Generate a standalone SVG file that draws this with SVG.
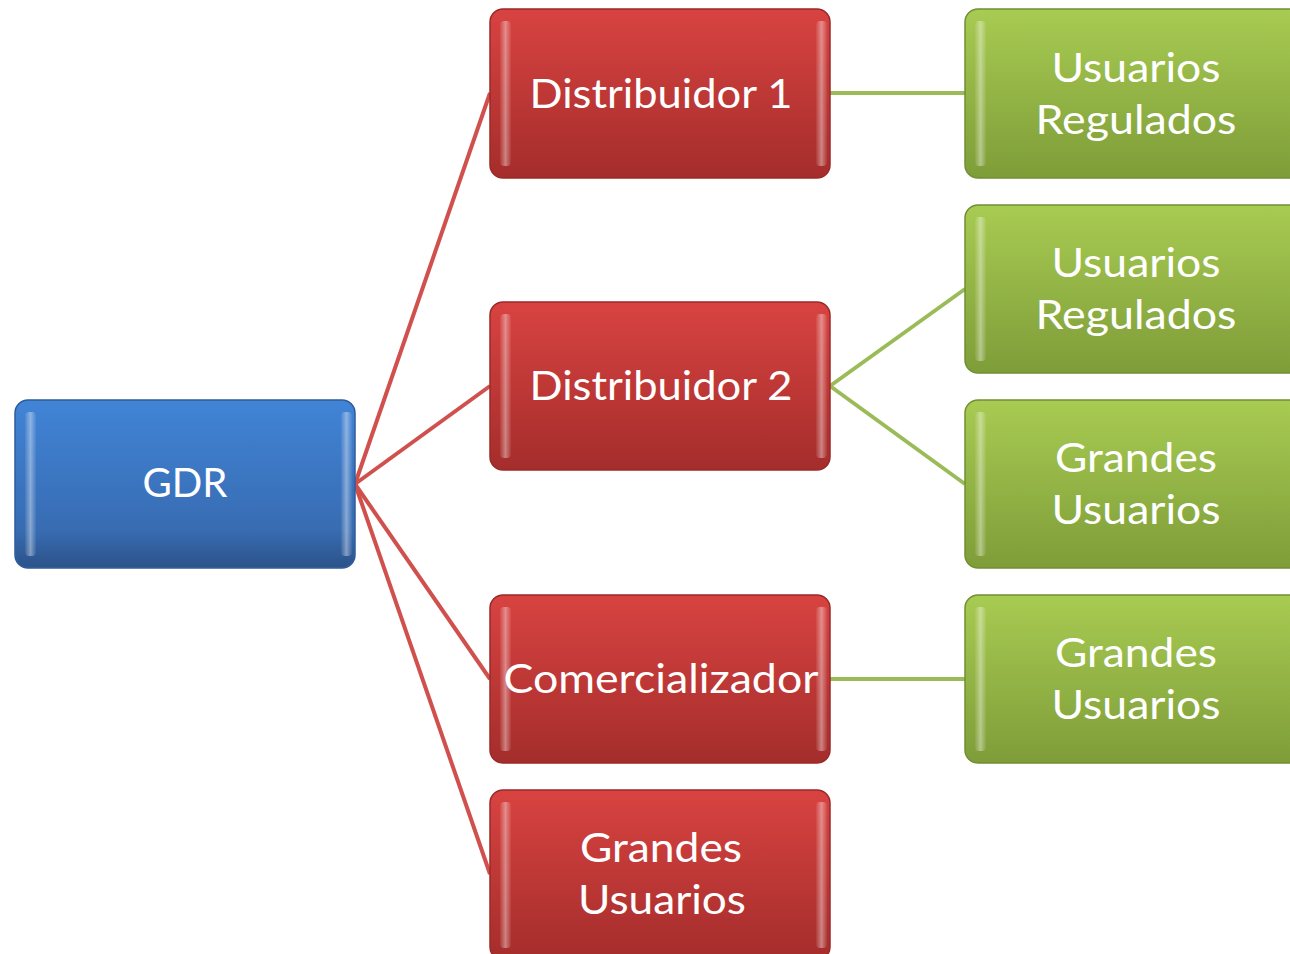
<svg xmlns="http://www.w3.org/2000/svg" width="1290" height="954" viewBox="0 0 1290 954">
<defs>
<linearGradient id="gBlue" x1="0" y1="0" x2="0" y2="1"><stop offset="0" stop-color="#4184d6"/><stop offset="1" stop-color="#3565a8"/></linearGradient>
<linearGradient id="gRed" x1="0" y1="0" x2="0" y2="1"><stop offset="0" stop-color="#d84341"/><stop offset="1" stop-color="#a42d2b"/></linearGradient>
<linearGradient id="gGreen" x1="0" y1="0" x2="0" y2="1"><stop offset="0" stop-color="#a8cb52"/><stop offset="1" stop-color="#7e9d39"/></linearGradient>
<linearGradient id="hl" x1="0" y1="0" x2="1" y2="0"><stop offset="0" stop-color="#fff" stop-opacity="0.05"/><stop offset="0.5" stop-color="#fff" stop-opacity="0.4"/><stop offset="1" stop-color="#fff" stop-opacity="0.05"/></linearGradient>
<linearGradient id="sh" x1="0" y1="0" x2="0" y2="1"><stop offset="0" stop-color="#000" stop-opacity="0"/><stop offset="1" stop-color="#000" stop-opacity="0.18"/></linearGradient>
</defs>
<style>
.t{font-family:"Lato","Open Sans","Liberation Sans",sans-serif;font-size:40px;fill:#fff;text-anchor:middle}
.blue{fill:url(#gBlue);stroke:#2f5c98;stroke-width:1.5}
.red{fill:url(#gRed);stroke:#9a2a28;stroke-width:1.5}
.green{fill:url(#gGreen);stroke:#718f33;stroke-width:1.5}
.hl{fill:url(#hl)}
.sh{fill:url(#sh)}
.cr{stroke:#d0504d;stroke-width:4;fill:none}
.cg{stroke:#9bbb59;stroke-width:4;fill:none}
</style>
<g id="connectors">
<path class="cr" d="M355 484 L490 93"/>
<path class="cr" d="M355 484 L490 386"/>
<path class="cr" d="M355 484 L490 679"/>
<path class="cr" d="M355 484 L490 874"/>
<path class="cg" d="M830 93 L965 93"/>
<path class="cg" d="M830 386 L965 289"/>
<path class="cg" d="M830 386 L965 484"/>
<path class="cg" d="M830 679 L965 679"/>
</g>
<g id="gdr">
<rect class="blue" x="15" y="400" width="340" height="168" rx="13"/>
<rect class="sh" x="16" y="530" width="338" height="37" rx="12"/>
<rect class="hl" x="25" y="412" width="11" height="144" rx="4"/>
<rect class="hl" x="341" y="412" width="11" height="144" rx="4"/>
<text class="t" x="185" y="497" textLength="85" lengthAdjust="spacingAndGlyphs">GDR</text>
</g>
<g id="dist1">
<rect class="red" x="490" y="9" width="340" height="169" rx="13"/>
<rect class="hl" x="500" y="21" width="11" height="145" rx="4"/>
<rect class="hl" x="816" y="21" width="11" height="145" rx="4"/>
<text class="t" x="661" y="108" textLength="263" lengthAdjust="spacingAndGlyphs">Distribuidor 1</text>
</g>
<g id="dist2">
<rect class="red" x="490" y="302" width="340" height="168" rx="13"/>
<rect class="hl" x="500" y="314" width="11" height="144" rx="4"/>
<rect class="hl" x="816" y="314" width="11" height="144" rx="4"/>
<text class="t" x="661" y="400" textLength="263" lengthAdjust="spacingAndGlyphs">Distribuidor 2</text>
</g>
<g id="comer">
<rect class="red" x="490" y="595" width="340" height="168" rx="13"/>
<rect class="hl" x="500" y="607" width="11" height="144" rx="4"/>
<rect class="hl" x="816" y="607" width="11" height="144" rx="4"/>
<text class="t" x="661" y="693" textLength="315" lengthAdjust="spacingAndGlyphs">Comercializador</text>
</g>
<g id="grandesR">
<rect class="red" x="490" y="790" width="340" height="170" rx="13"/>
<rect class="hl" x="500" y="802" width="11" height="146" rx="4"/>
<rect class="hl" x="816" y="802" width="11" height="146" rx="4"/>
<text class="t" x="661" y="862" textLength="162" lengthAdjust="spacingAndGlyphs">Grandes</text>
<text class="t" x="662" y="914" textLength="168" lengthAdjust="spacingAndGlyphs">Usuarios</text>
</g>
<g id="ur1">
<rect class="green" x="965" y="9" width="340" height="169" rx="13"/>
<rect class="hl" x="975" y="21" width="11" height="145" rx="4"/>
<text class="t" x="1136" y="82" textLength="169" lengthAdjust="spacingAndGlyphs">Usuarios</text>
<text class="t" x="1136" y="134" textLength="201" lengthAdjust="spacingAndGlyphs">Regulados</text>
</g>
<g id="ur2">
<rect class="green" x="965" y="205" width="340" height="168" rx="13"/>
<rect class="hl" x="975" y="217" width="11" height="144" rx="4"/>
<text class="t" x="1136" y="277" textLength="169" lengthAdjust="spacingAndGlyphs">Usuarios</text>
<text class="t" x="1136" y="329" textLength="201" lengthAdjust="spacingAndGlyphs">Regulados</text>
</g>
<g id="gu1">
<rect class="green" x="965" y="400" width="340" height="168" rx="13"/>
<rect class="hl" x="975" y="412" width="11" height="144" rx="4"/>
<text class="t" x="1136" y="472" textLength="162" lengthAdjust="spacingAndGlyphs">Grandes</text>
<text class="t" x="1136" y="524" textLength="169" lengthAdjust="spacingAndGlyphs">Usuarios</text>
</g>
<g id="gu2">
<rect class="green" x="965" y="595" width="340" height="168" rx="13"/>
<rect class="hl" x="975" y="607" width="11" height="144" rx="4"/>
<text class="t" x="1136" y="667" textLength="162" lengthAdjust="spacingAndGlyphs">Grandes</text>
<text class="t" x="1136" y="719" textLength="169" lengthAdjust="spacingAndGlyphs">Usuarios</text>
</g>
</svg>
